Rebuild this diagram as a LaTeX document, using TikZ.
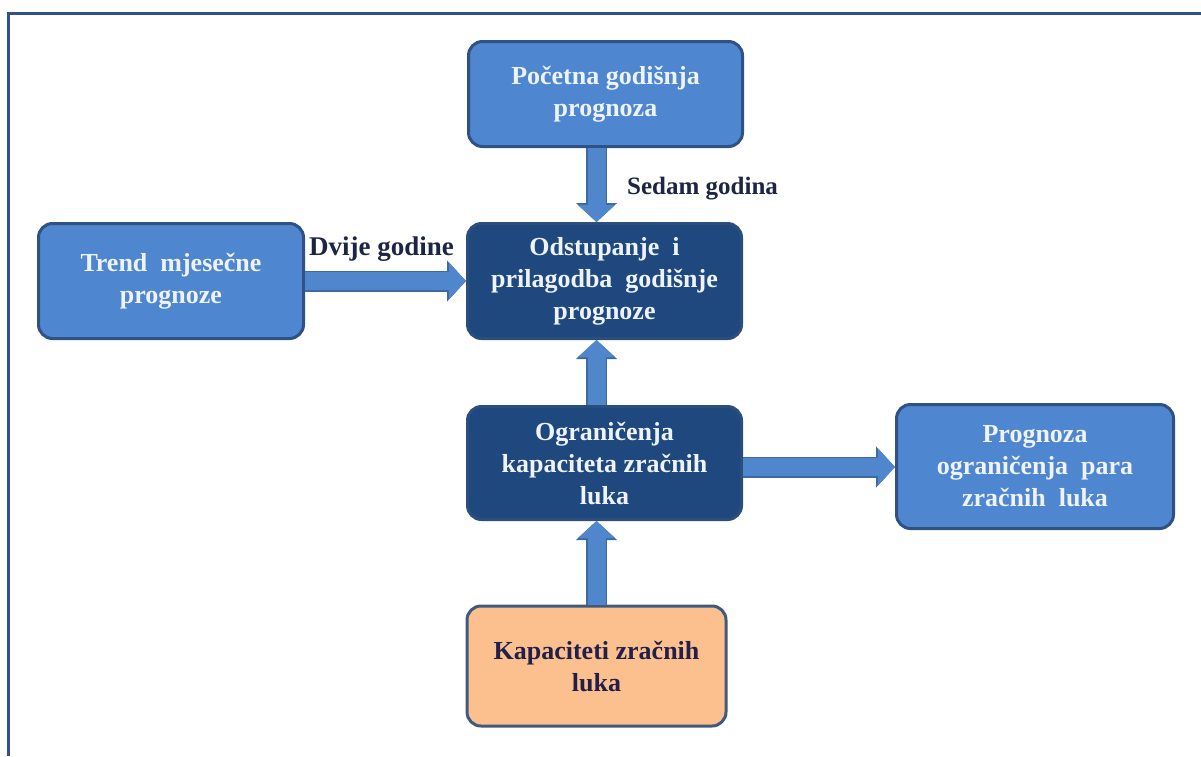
\documentclass[tikz,border=0pt]{standalone}
\usepackage{fontspec}
\setmainfont{Liberation Serif}
\usetikzlibrary{arrows.meta}
\definecolor{boxblue}{HTML}{4E86CF}
\definecolor{boxborder}{HTML}{2F5283}
\definecolor{darkfill}{HTML}{1F487F}
\definecolor{darkborder}{HTML}{2C4E7A}
\definecolor{orangefill}{HTML}{FBC08E}
\definecolor{orangeborder}{HTML}{3F5A7E}
\definecolor{navytext}{HTML}{22204A}
\definecolor{labeltext}{HTML}{1C2541}
\definecolor{lighttext}{HTML}{EEF3FA}
\definecolor{framecol}{HTML}{2F528F}
\definecolor{arrowfill}{HTML}{4F86CC}
\definecolor{arrowedge}{HTML}{3D6AA3}
\tikzset{
  box/.style={rounded corners=14pt, line width=3pt, align=center, inner sep=0pt,
    font=\fontsize{26}{32}\selectfont\bfseries},
  lightbox/.style={box, fill=boxblue, draw=boxborder, text=lighttext},
  darkbox/.style={box, fill=darkfill, draw=darkborder, text=lighttext},
  orangebox/.style={box, fill=orangefill, draw=orangeborder, text=navytext},
  lbl/.style={font=\fontsize{25}{29}\selectfont\bfseries, text=labeltext, inner sep=0pt},
  arrowout/.style={line width=21pt, draw=arrowedge, -{Triangle[length=19pt,width=40pt]}},
  arrowin/.style={line width=18pt, draw=arrowfill, -{Triangle[length=17pt,width=36pt]}},
}
\begin{document}
\begin{tikzpicture}[x=1pt,y=-1pt]
\useasboundingbox (0,0) rectangle (1201,756);
\fill[white] (0,0) rectangle (1201,756);
\draw[framecol, line width=3pt] (1201,13) -- (8,13) -- (8,756);

\node[lightbox, minimum width=274pt, minimum height=105pt] (top) at (605.5,94) {Početna godišnja\\prognoza};
\node[lightbox, minimum width=265pt, minimum height=115pt] (trend) at (171,281) {Trend\ \ mjesečne\\prognoze};
\node[darkbox, minimum width=274pt, minimum height=115pt] (mid) at (604.5,281) {Odstupanje\ \ i\\prilagodba\ \ godišnje\\prognoze};
\node[darkbox, minimum width=274pt, minimum height=113pt] (ogr) at (604.5,463) {Ograničenja\\kapaciteta zračnih\\luka};
\node[lightbox, minimum width=277pt, minimum height=124pt] (prog) at (1035,466.5) {Prognoza\\ograničenja\ \ para\\zračnih\ \ luka};
\node[orangebox, minimum width=259pt, minimum height=120pt] (kap) at (596.5,666) {Kapaciteti zračnih\\luka};

\foreach \s in {arrowout,arrowin}{
  \draw[\s] (top.south -| kap) -- (mid.north -| kap);
  \draw[\s] (trend.east) -- (mid.west);
  \draw[\s] (ogr.north -| kap) -- (mid.south -| kap);
  \draw[\s] ([yshift=-4pt]ogr.east) -- ([yshift=-4pt]ogr.east -| prog.west);
  \draw[\s] (kap.north) -- (ogr.south -| kap);
}

\node[lbl, anchor=base west] (sedam) at (627,194) {Sedam godina};
\node[lbl, anchor=base west, font=\fontsize{27}{30}\selectfont\bfseries] (dvije) at (309,255) {Dvije godine};
\end{tikzpicture}
\end{document}
